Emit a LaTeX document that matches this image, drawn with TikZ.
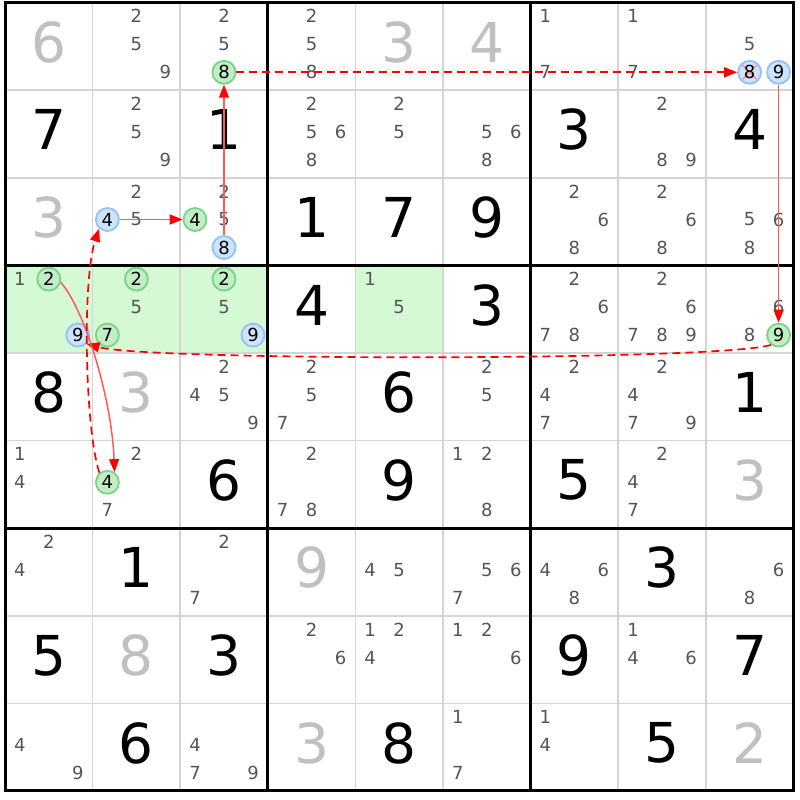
\documentclass[tikz,border=0pt]{standalone}
\usepackage{fontspec}
\setmainfont{DejaVu Sans}
\usetikzlibrary{arrows.meta}
\definecolor{candgray}{RGB}{85,85,85}
\definecolor{solvedgray}{RGB}{192,192,192}
\definecolor{thinline}{RGB}{212,212,212}
\definecolor{hlgreen}{RGB}{213,248,213}
\definecolor{cgfill}{RGB}{194,238,198}
\definecolor{cgdraw}{RGB}{120,212,135}
\definecolor{cbfill}{RGB}{206,228,252}
\definecolor{cbdraw}{RGB}{145,193,245}
\definecolor{xred}{RGB}{255,140,140}
\definecolor{linkred}{RGB}{255,90,90}
\newcommand\cpx[2]{5+(#1-0.5)*87.6+(mod(#2-1,3)-1)*29}
\newcommand\cpy[2]{2.5+(#1-0.5)*87.6+(int((#2-1)/3)-1)*28-2}
\begin{document}
\begin{tikzpicture}[x=1pt,y=-1pt,
  given/.style={font=\fontsize{55}{55}\selectfont, text=black, inner sep=0pt},
  solved/.style={given, text=solvedgray},
  cand/.style={font=\fontsize{18}{18}\selectfont, text=candgray, inner sep=0pt},
  circ/.style={circle, line width=1.8pt, minimum size=23pt, inner sep=0pt,
    font=\fontsize{18}{18}\selectfont, text=black},
  gcirc/.style={circ, fill=cgfill, draw=cgdraw},
  bcirc/.style={circ, fill=cbfill, draw=cbdraw},
  thinl/.style={thinline, line width=1.6pt},
  thickl/.style={black, line width=3pt},
  strong/.style={linkred, line width=1.5pt, -{Triangle[length=13pt,width=10pt,color=red]}},
  weak/.style={red, line width=1.7pt, dash pattern=on 8pt off 5pt, -{Triangle[length=13pt,width=10pt,color=red]}}
]
\useasboundingbox (0,0) rectangle (800,800);
\fill[white] (0,0) rectangle (800,800);
% highlighted cells
\fill[hlgreen] (5,265.3) rectangle (267.8,352.9);
\fill[hlgreen] (355.4,265.3) rectangle (443,352.9);
% grid
\foreach \i in {1,2,4,5,7,8} {
  \draw[thinl] ({5+\i*87.6},2.5) -- ({5+\i*87.6},790.9);
  \draw[thinl] (5,{2.5+\i*87.6}) -- (793.4,{2.5+\i*87.6});
}
\foreach \i in {3,6} {
  \draw[thickl] ({5+\i*87.6},2.5) -- ({5+\i*87.6},790.9);
  \draw[thickl] (5,{2.5+\i*87.6}) -- (793.4,{2.5+\i*87.6});
}
\draw[thickl] (5,2.5) rectangle (793.4,790.9);
% givens
\foreach \ri/\ci/\di in {2/1/7,2/3/1,2/7/3,2/9/4,3/4/1,3/5/7,3/6/9,4/4/4,4/6/3,
  5/1/8,5/5/6,5/9/1,6/3/6,6/5/9,6/7/5,7/2/1,7/8/3,8/1/5,8/3/3,8/7/9,8/9/7,
  9/2/6,9/5/8,9/8/5}
  \node[given] (v\ri\ci) at ({5+(\ci-0.5)*87.6},{2.5+(\ri-0.5)*87.6-4}) {\di};
\foreach \ri/\ci/\di in {1/1/6,1/5/3,1/6/4,3/1/3,5/2/3,6/9/3,7/4/9,8/2/8,9/4/3,9/9/2}
  \node[solved] (v\ri\ci) at ({5+(\ci-0.5)*87.6},{2.5+(\ri-0.5)*87.6-4}) {\di};
% candidates
\foreach \ri/\ci/\ds in {1/2/{2,5,9},1/3/{2,5},1/4/{2,5,8},1/7/{1,7},1/8/{1,7},1/9/{5},
  2/2/{2,5,9},2/4/{2,5,6,8},2/5/{2,5},2/6/{5,6,8},2/8/{2,8,9},
  3/2/{2,5},3/3/{2,5},3/7/{2,6,8},3/8/{2,6,8},3/9/{5,6,8},
  4/1/{1},4/2/{5},4/3/{5},4/5/{1,5},4/7/{2,6,7,8},4/8/{2,6,7,8,9},4/9/{6,8},
  5/3/{2,4,5,9},5/4/{2,5,7},5/6/{2,5},5/7/{2,4,7},5/8/{2,4,7,9},
  6/1/{1,4},6/2/{2,7},6/4/{2,7,8},6/6/{1,2,8},6/8/{2,4,7},
  7/1/{2,4},7/3/{2,7},7/5/{4,5},7/6/{5,6,7},7/7/{4,6,8},7/9/{6,8},
  8/4/{2,6},8/5/{1,2,4},8/6/{1,2,6},8/8/{1,4,6},
  9/1/{4,9},9/3/{4,7,9},9/6/{1,7},9/7/{1,4}}
{
  \foreach \di in \ds
    \node[cand] (k\ri\ci\di) at ({\cpx{\ci}{\di}},{\cpy{\ri}{\di}}) {\di};
}
% circled candidates
\node[gcirc] (g138) at ({\cpx{3}{8}},{\cpy{1}{8}}) {8};
\node[gcirc] (g334) at ({\cpx{3}{4}},{\cpy{3}{4}}) {4};
\node[gcirc] (g412) at ({\cpx{1}{2}},{\cpy{4}{2}}) {2};
\node[gcirc] (g422) at ({\cpx{2}{2}},{\cpy{4}{2}}) {2};
\node[gcirc] (g427) at ({\cpx{2}{7}},{\cpy{4}{7}}) {7};
\node[gcirc] (g432) at ({\cpx{3}{2}},{\cpy{4}{2}}) {2};
\node[gcirc] (g499) at ({\cpx{9}{9}},{\cpy{4}{9}}) {9};
\node[gcirc] (g624) at ({\cpx{2}{4}},{\cpy{6}{4}}) {4};
\node[bcirc] (b198) at ({\cpx{9}{8}},{\cpy{1}{8}}) {};
\draw[xred, line width=1.5pt] ([shift={(-7,-7)}]b198.center) -- ([shift={(7,7)}]b198.center)
  ([shift={(-7,7)}]b198.center) -- ([shift={(7,-7)}]b198.center);
\node[circ] (t198) at (b198.center) {8};
\node[bcirc] (b199) at ({\cpx{9}{9}},{\cpy{1}{9}}) {9};
\node[bcirc] (b324) at ({\cpx{2}{4}},{\cpy{3}{4}}) {4};
\node[bcirc] (b338) at ({\cpx{3}{8}},{\cpy{3}{8}}) {8};
\node[bcirc] (b419) at ({\cpx{1}{9}},{\cpy{4}{9}}) {9};
\node[bcirc] (b439) at ({\cpx{3}{9}},{\cpy{4}{9}}) {9};
% links
\draw[strong] (b324.east) -- (g334.west);
\draw[strong] (b338.north) -- (g138.south);
\draw[weak] (g138.east) -- (b198.west);
\draw[strong] (b199.south) -- (g499.north);
\draw[weak] (g499.232) .. controls (720,361) and (150,361) .. (b419.-45);
\draw[strong] (g412.-15) .. controls (85,310) and (112,400) .. (g624.55);
\draw[weak] (g624.130) .. controls (85,430) and (82,280) .. (b324.228);
\end{tikzpicture}
\end{document}
